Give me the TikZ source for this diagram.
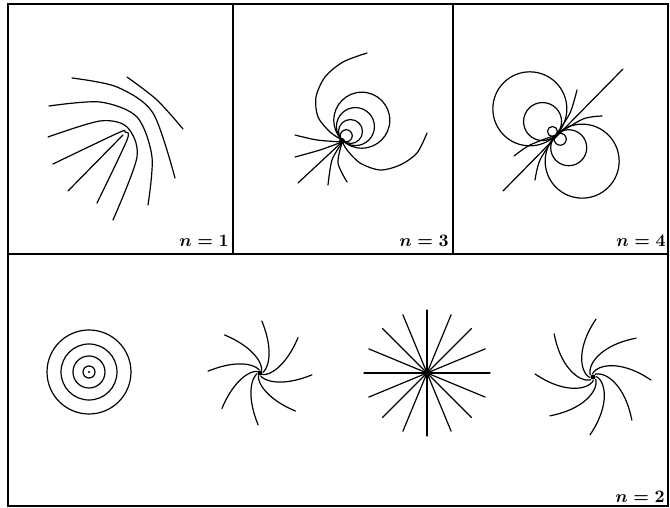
\documentclass[tikz,border=0pt]{standalone}
\usepackage{amsmath}
\newcommand{\panelnum}[1]{\scalebox{1.75}{\boldmath$n = #1$}}
\begin{document}
\begin{tikzpicture}[x=1pt,y=1pt,
    fieldline/.style={black, line width=1.2pt, line cap=round},
    framebox/.style={black, line width=1.8pt},
    panellabel/.style={anchor=base east, inner sep=0pt}]
  \useasboundingbox (0,0) rectangle (670,508);

  % Draw frame and dividers
  \draw[framebox] (8,2) rectangle (668,504);
  \draw[framebox] (8,254) -- (668,254);
  \draw[framebox] (233,254) -- (233,504);
  \draw[framebox] (453,254) -- (453,504);

  % Panel labels
  \node[panellabel] (lab1) at (229,261) {\panelnum{1}};
  \node[panellabel] (lab3) at (449,261) {\panelnum{3}};
  \node[panellabel] (lab4) at (666,261) {\panelnum{4}};
  \node[panellabel] (lab2) at (665,5) {\panelnum{2}};

  % Centres
  \coordinate (ctr3) at (342,368);
  \coordinate (ctr4) at (556,373);
  \coordinate (ring) at (89,136);
  \coordinate (swirlA) at (260,135);
  \coordinate (star) at (427,135);
  \coordinate (swirlB) at (593,131);

  % n = 1
  \draw[fieldline] plot[smooth] coordinates {(48,371) (100,387) (127,381) (137,351) (113,288)};
  \draw[fieldline] plot[smooth] coordinates {(49,402) (100,406) (137,391) (152,351) (148,303)};
  \draw[fieldline] plot[smooth] coordinates {(72,430) (117,421) (153,395) (175,330)};
  \draw[fieldline] plot[smooth] coordinates {(127,431) (157,408) (183,379)};
  \draw[fieldline] plot[smooth] coordinates {(53,344) (118,375) (125,376) (127,368) (97,305)};
  \draw[fieldline] (68,317) -- (123,373);

  % n = 3
  \begin{scope}[shift={(ctr3)}]
    \foreach \r in {6,12,19,28}
      \draw[fieldline] (45:\r) circle (\r);
    \draw[fieldline] plot[smooth] coordinates {(25,87) (1,78) (-17,63) (-26,43) (-24,23) (-12,8) (0,0)};
    \draw[fieldline] plot[smooth] coordinates {(85,7) (75,-13) (58,-25) (38,-30) (18,-23) (5,-10) (0,-1)};
    \draw[fieldline] plot[smooth] coordinates {(-47,5) (-25,0) (0,-2)};
    \draw[fieldline] plot[smooth] coordinates {(-47,-17) (-22,-10) (0,-2)};
    \draw[fieldline] (-44,-43) -- (0,-2);
    \draw[fieldline] plot[smooth] coordinates {(-14,-45) (-10,-20) (0,-3)};
    \draw[fieldline] plot[smooth] coordinates {(5,-42) (-4,-23) (0,-3)};
    \fill (0,-1) circle (3);
  \end{scope}

  % n = 4
  \begin{scope}[shift={(ctr4)}]
    \foreach \r in {5,19,37}
      \draw[fieldline] (135:\r) circle (\r);
    \foreach \r in {6,18,37}
      \draw[fieldline] (-45:\r) circle (\r);
    \draw[fieldline] (-53,-56) -- (67,66);
    \draw[fieldline] plot[smooth] coordinates {(0,0) (14,22) (21,45)};
    \draw[fieldline] plot[smooth] coordinates {(0,0) (27,16) (46,19)};
    \draw[fieldline] plot[smooth] coordinates {(0,0) (-26,-10) (-42,-21)};
    \draw[fieldline] plot[smooth] coordinates {(0,0) (-16,-25) (-21,-45)};
  \end{scope}

  % n = 2: concentric circles
  \foreach \r in {6,16,28,42}
    \draw[fieldline] (ring) circle (\r);
  \fill (ring) circle (1.2);

  % n = 2: first spiral
  \foreach \a in {-2,43,...,313}
    \draw[fieldline, shift={(swirlA)}, domain=0.06:1, samples=30, smooth, variable=\t]
      plot ({\a + 26*ln(\t)}:{52*\t});
  \fill (swirlA) circle (2.5);

  % n = 2: radial star
  \foreach \a in {0,22.5,...,337.5}
    \draw[fieldline] (star) -- ++(\a:63);
  \fill (star) circle (3);

  % n = 2: second spiral
  \foreach \a in {-3,42,...,312}
    \draw[fieldline, shift={(swirlB)}, domain=0.06:1, samples=30, smooth, variable=\t]
      plot ({\a - 35*ln(\t)}:{58*\t});
  \fill (swirlB) circle (2.5);
\end{tikzpicture}
\end{document}
